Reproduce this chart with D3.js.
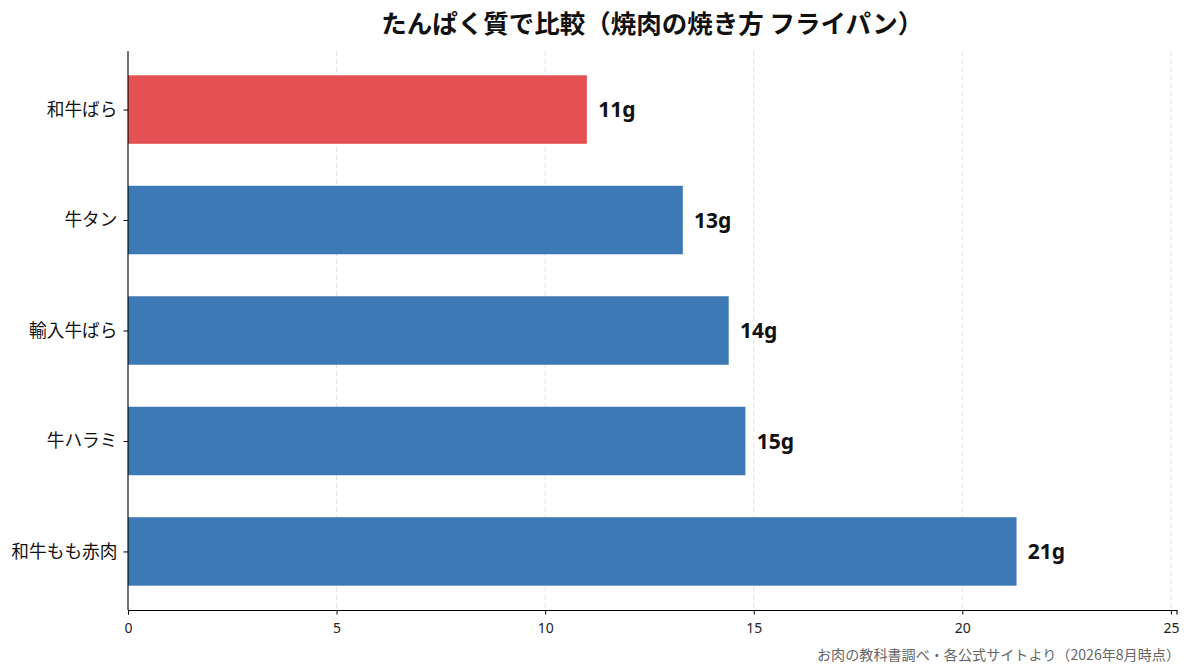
<!DOCTYPE html>
<html><head><meta charset="utf-8">
<script src="https://cdn.jsdelivr.net/npm/d3@7"></script>
<style>
html,body{margin:0;padding:0;background:#fff;}
svg{display:block;font-family:"Noto Sans CJK JP","Noto Sans",sans-serif;}
</style></head>
<body>
<script>
const categories = ["和牛ばら","牛タン","輸入牛ばら","牛ハラミ","和牛もも赤肉"];
const values = [11.0, 13.3, 14.4, 14.8, 21.3];
const labels = ["11g","13g","14g","15g","21g"];
const highlight = [true,false,false,false,false];
const xTicks = [0,5,10,15,20,25];
const title = "たんぱく質で比較（焼肉の焼き方 フライパン）";
const source = "お肉の教科書調べ・各公式サイトより（2026年8月時点）";

(function(){
const W = 1193, H = 672;
const mLeft = 128, mRight = 1176.5, mTop = 51, mBottom = 610;

const svg = d3.select("body").append("svg").attr("width", W).attr("height", H);

const x = d3.scaleLinear().domain([0, d3.max(values) * 1.18]).range([mLeft, mRight]);
const y = d3.scaleLinear().domain([-0.53, categories.length - 1 + 0.53]).range([mTop, mBottom]);
const barH = y(0.31) - y(-0.31);
const ff = '"Noto Sans CJK JP","Noto Sans",sans-serif';
const fLatin = '"Noto Sans","Noto Sans CJK JP",sans-serif';

// grid
svg.append("g").selectAll("line").data(xTicks.filter(d => d > 0)).join("line")
  .attr("x1", d => x(d)).attr("x2", d => x(d))
  .attr("y1", mTop).attr("y2", mBottom)
  .attr("stroke", "#dcdcdc").attr("stroke-width", 0.8)
  .attr("stroke-dasharray", "5,3");

// bars
svg.append("g").selectAll("rect").data(values).join("rect")
  .attr("x", x(0))
  .attr("y", (d, i) => y(i) - barH / 2)
  .attr("width", d => x(d) - x(0))
  .attr("height", barH)
  .attr("fill", (d, i) => highlight[i] ? "#e45152" : "#3d7ab5");

// value labels
svg.append("g").selectAll("text").data(values).join("text")
  .attr("x", d => x(d + 0.27))
  .attr("y", (d, i) => y(i))
  .attr("dy", "0.36em")
  .attr("font-size", 21)
  .attr("font-weight", "bold")
  .attr("fill", "#111")
  .style("font-family", fLatin)
  .text((d, i) => labels[i]);

// x axis
const xAxis = d3.axisBottom(x).tickValues(xTicks).tickSize(4.5).tickPadding(8.5).tickFormat(d3.format("d"));
const gx = svg.append("g").attr("transform", `translate(0,${mBottom})`).call(xAxis);
gx.select(".domain").attr("stroke", "#000").attr("stroke-width", 1.1);
gx.selectAll(".tick line").attr("stroke", "#000");
gx.selectAll(".tick text").attr("font-size", 14).attr("fill", "#222").style("font-family", fLatin);

// y axis
const yAxis = d3.axisLeft(y).tickValues(d3.range(categories.length)).tickSize(4.5).tickPadding(6)
  .tickFormat(i => categories[i]);
const gy = svg.append("g").attr("transform", `translate(${mLeft},0)`).call(yAxis);
gy.select(".domain").attr("d", `M0,${mTop}V${mBottom}`).attr("stroke", "#000").attr("stroke-width", 1.1);
gy.selectAll(".tick line").attr("stroke", "#000");
gy.selectAll(".tick text").attr("font-size", 17.7).attr("fill", "#111").style("font-family", ff);

// title
svg.append("text")
  .attr("x", (mLeft + mRight) / 2).attr("y", 24.5)
  .attr("dy", "0.35em")
  .attr("text-anchor", "middle")
  .attr("font-size", 25.5)
  .attr("font-weight", "bold")
  .attr("fill", "#111")
  .text(title);

// source
svg.append("text")
  .attr("x", 1180).attr("y", 655)
  .attr("dy", "0.35em")
  .attr("text-anchor", "end")
  .attr("font-size", 14.1)
  .attr("fill", "#666")
  .text(source);
})();
</script>
</body></html>
